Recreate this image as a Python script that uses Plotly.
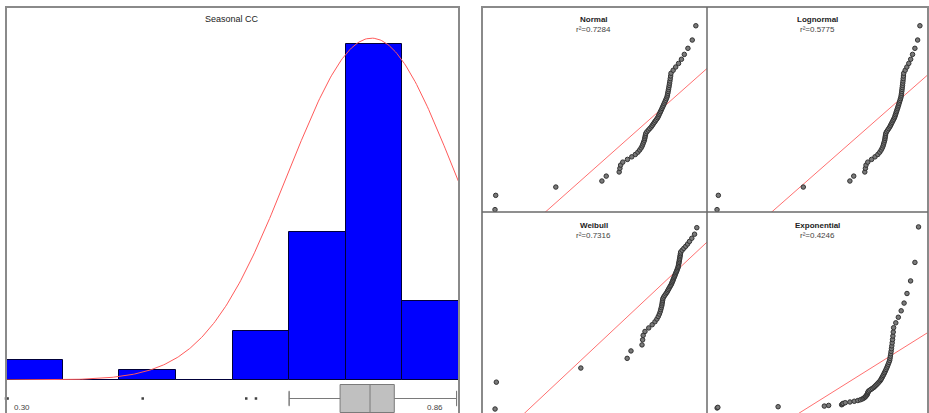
import numpy as np
import plotly.graph_objects as go
from statistics import NormalDist

W, H = 929, 413

# ---------------- data ----------------
bin_edges = [0.30, 0.37, 0.44, 0.51, 0.58, 0.65, 0.72, 0.79, 0.86]
counts = [2, 0, 1, 0, 5, 15, 34, 8]

curve_mean = 0.752
curve_sd = 0.103
curve_peak = 34.6

box_lowerfence = 0.650
box_q1 = 0.713
box_median = 0.750
box_q3 = 0.780
box_upperfence = 0.857
box_outliers = [0.300, 0.302, 0.469, 0.597, 0.609]
axis_label_vals = [0.30, 0.86]
axis_labels = ["0.30", "0.86"]

sample = [0.300, 0.302, 0.469, 0.597, 0.609, 0.645, 0.647, 0.649,
          0.655, 0.668, 0.680, 0.690, 0.697, 0.702, 0.706, 0.709, 0.711,
          0.713, 0.715, 0.716, 0.717, 0.718, 0.719,
          0.722, 0.726, 0.730, 0.734, 0.737, 0.740, 0.743, 0.746, 0.749, 0.752,
          0.754, 0.756, 0.758, 0.760, 0.762, 0.764, 0.766, 0.768, 0.770, 0.772,
          0.774, 0.776, 0.778, 0.779, 0.780, 0.781,
          0.782, 0.783, 0.784, 0.785, 0.786, 0.787, 0.788, 0.789,
          0.795, 0.802, 0.810, 0.818, 0.826, 0.836, 0.848, 0.858]

qq_titles = ["Normal", "Lognormal", "Weibull", "Exponential"]
qq_r2 = ["0.7284", "0.5775", "0.7316", "0.4246"]

normal_fit = (0.735, 0.125)        # mu, sigma
lognormal_fit = (-0.365, 0.2355)   # mu(ln), sigma(ln)
weibull_fit = (6.0, -0.272)        # beta, ln(eta)
exponential_fit = (0.548, 0.177)   # location, scale

# ---------------- helpers ----------------
def fx(px):
    return px / W

def fy(py):
    return 1 - py / H

fig = go.Figure()

# ---------------- histogram ----------------
centers = [(bin_edges[i] + bin_edges[i + 1]) / 2 for i in range(len(counts))]
widths = [bin_edges[i + 1] - bin_edges[i] for i in range(len(counts))]
fig.add_trace(go.Bar(x=centers, y=counts, width=widths,
                     marker=dict(color="#0000ff", line=dict(color="#00003a", width=1)),
                     xaxis="x", yaxis="y", showlegend=False, hoverinfo="skip"))

cx = np.linspace(bin_edges[0], bin_edges[-1], 300)
cy = curve_peak * np.exp(-0.5 * ((cx - curve_mean) / curve_sd) ** 2)
fig.add_trace(go.Scatter(x=cx, y=cy, mode="lines", line=dict(color="#ff5a5a", width=1),
                         xaxis="x", yaxis="y", showlegend=False, hoverinfo="skip"))

# ---------------- box plot ----------------
fig.add_trace(go.Box(orientation="h", y=[0], q1=[box_q1], median=[box_median], q3=[box_q3],
                     lowerfence=[box_lowerfence], upperfence=[box_upperfence],
                     width=28, fillcolor="#c0c0c0", line=dict(color="#7a7a7a", width=1),
                     boxpoints=False, xaxis="x2", yaxis="y2", showlegend=False, hoverinfo="skip"))
fig.add_trace(go.Scatter(x=[box_lowerfence, box_upperfence], y=[0, 0], mode="markers",
                         marker=dict(symbol="line-ns-open", size=11, color="#7a7a7a",
                                     line=dict(color="#7a7a7a", width=1)),
                         xaxis="x2", yaxis="y2", showlegend=False, hoverinfo="skip"))
fig.add_trace(go.Scatter(x=box_outliers, y=[0] * len(box_outliers), mode="markers",
                         marker=dict(symbol="square", size=2.5, color="#404040"),
                         xaxis="x2", yaxis="y2", showlegend=False, hoverinfo="skip",
                         cliponaxis=False))

# ---------------- probability plots ----------------
s = np.array(sorted(sample))
n = len(s)
i = np.arange(1, n + 1)
p = (i - 0.3) / (n + 0.4)
nd = NormalDist()
z = np.array([nd.inv_cdf(v) for v in p])

qq_data = [
    (s, z),
    (np.log(s), z),
    (np.log(s), np.log(-np.log(1 - p))),
    (s, -np.log(1 - p)),
]

# panel pixel boxes: (x0, x1, y0, y1)
panels = [(482, 707, 7, 212), (707, 929, 7, 212), (482, 707, 212, 413), (707, 929, 212, 413)]
xranges = [[0.2639, 0.889], [-1.256, -0.106], [-1.272, -0.10], [0.272, 0.887]]
yranges = [[-2.36, 2.77], [-2.36, 2.77], [-4.665, 2.035], [-0.115, 4.91]]

def fit_line(k, xs):
    if k == 0:
        mu, sd = normal_fit
        return (xs - mu) / sd
    if k == 1:
        mu, sd = lognormal_fit
        return (xs - mu) / sd
    if k == 2:
        beta, lneta = weibull_fit
        return beta * (xs - lneta)
    loc, sc = exponential_fit
    return (xs - loc) / sc

layout_axes = {}
for k in range(4):
    ax = k + 3
    xa, ya = f"x{ax}", f"y{ax}"
    lx = np.linspace(xranges[k][0], xranges[k][1], 50)
    fig.add_trace(go.Scatter(x=lx, y=fit_line(k, lx), mode="lines",
                             line=dict(color="#ff7070", width=1),
                             xaxis=xa, yaxis=ya, showlegend=False, hoverinfo="skip"))
    qx, qy = qq_data[k]
    fig.add_trace(go.Scatter(x=qx, y=qy, mode="markers",
                             marker=dict(symbol="circle", size=4.5, color="#7a7a7a",
                                         line=dict(color="#333333", width=1)),
                             xaxis=xa, yaxis=ya, showlegend=False, hoverinfo="skip"))
    x0, x1, y0, y1 = panels[k]
    layout_axes[f"xaxis{ax}"] = dict(domain=[fx(x0), fx(x1)], range=xranges[k], visible=False,
                                      anchor=ya, fixedrange=True)
    layout_axes[f"yaxis{ax}"] = dict(domain=[fy(y1), fy(y0)], range=yranges[k], visible=False,
                                      anchor=xa, fixedrange=True)

# ---------------- layout ----------------
ann = []
ann.append(dict(text="Seasonal CC", x=fx(232), y=fy(19), xref="paper", yref="paper",
                showarrow=False, font=dict(family="Liberation Sans, Arial", size=9, color="#222222"),
                xanchor="center", yanchor="middle"))
for k, (x0, x1, y0, y1) in enumerate(panels):
    xc = (x0 + x1) / 2 - 1
    ann.append(dict(text=f"<b>{qq_titles[k]}</b>", x=fx(xc), y=fy(y0 + 13), xref="paper", yref="paper",
                    showarrow=False, font=dict(family="Liberation Sans, Arial", size=8, color="#222222"),
                    xanchor="center", yanchor="middle"))
    ann.append(dict(text=f"r²={qq_r2[k]}", x=fx(xc), y=fy(y0 + 23), xref="paper", yref="paper",
                    showarrow=False, font=dict(family="Liberation Sans, Arial", size=8, color="#444444"),
                    xanchor="center", yanchor="middle"))
ann.append(dict(text=axis_labels[0], x=axis_label_vals[0], y=fy(407), xref="x2", yref="paper",
                showarrow=False, font=dict(family="Liberation Sans, Arial", size=8, color="#444444"),
                xanchor="left", yanchor="middle", xshift=6))
ann.append(dict(text=axis_labels[1], x=axis_label_vals[1], y=fy(407), xref="x2", yref="paper",
                showarrow=False, font=dict(family="Liberation Sans, Arial", size=8, color="#444444"),
                xanchor="right", yanchor="middle", xshift=-14))

border = "#8a8a8a"
shapes = [
    dict(type="rect", xref="paper", yref="paper", x0=fx(6), x1=fx(459), y0=fy(414), y1=fy(7),
         line=dict(color=border, width=2)),
    dict(type="rect", xref="paper", yref="paper", x0=fx(482), x1=fx(928), y0=fy(414), y1=fy(7),
         line=dict(color=border, width=2)),
    dict(type="line", xref="paper", yref="paper", x0=fx(707), x1=fx(707), y0=fy(414), y1=fy(7),
         line=dict(color="#6a6a6a", width=1.5)),
    dict(type="line", xref="paper", yref="paper", x0=fx(482), x1=fx(928), y0=fy(212), y1=fy(212),
         line=dict(color="#6a6a6a", width=1.5)),
]

fig.update_layout(
    width=W, height=H, margin=dict(l=0, r=0, t=0, b=0),
    paper_bgcolor="white", plot_bgcolor="rgba(0,0,0,0)",
    bargap=0, showlegend=False,
    xaxis=dict(domain=[fx(6), fx(459)], range=[bin_edges[0], bin_edges[-1]], visible=False,
               anchor="y", fixedrange=True),
    yaxis=dict(domain=[fy(380), fy(7)], range=[0, 373 / 9.88], visible=False, anchor="x",
               fixedrange=True),
    xaxis2=dict(domain=[fx(6), fx(459)], range=[bin_edges[0], bin_edges[-1]], visible=False,
                anchor="y2", fixedrange=True),
    yaxis2=dict(domain=[0, fy(380)], range=[-14.5, 18.5], visible=False, anchor="x2",
                fixedrange=True),
    annotations=ann, shapes=shapes,
    **layout_axes,
)

fig.write_html("out.html")
